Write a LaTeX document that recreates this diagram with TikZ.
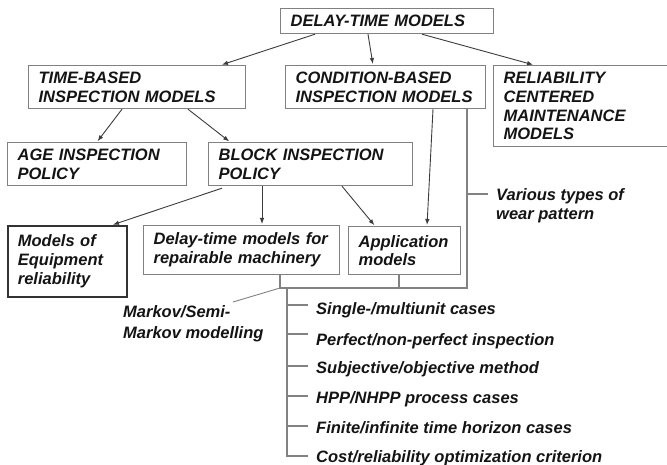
\documentclass[tikz,border=0pt]{standalone}
\usepackage{fontspec}
\setmainfont{Liberation Sans}
\usetikzlibrary{calc,arrows.meta}
\definecolor{boxgray}{RGB}{128,128,128}
\definecolor{linegray}{RGB}{60,60,60}
\definecolor{brkgray}{RGB}{130,130,130}
\definecolor{txt}{RGB}{20,20,20}
\tikzset{
  box/.style={draw=boxgray, line width=1.2pt, inner xsep=10pt, inner ysep=0pt,
    align=left, anchor=north west, text=txt,
    font=\bfseries\itshape\fontsize{16.5}{18.8}\selectfont},
  lbl/.style={inner sep=0pt, anchor=base west, align=left, text=txt,
    font=\bfseries\itshape\fontsize{16.5}{19.5}\selectfont},
  arr/.style={draw=linegray, line width=0.9pt, -{Latex[length=6pt,width=4.5pt]}, shorten >=1pt},
  brk/.style={draw=brkgray, line width=1.2pt}
}
\begin{document}
\begin{tikzpicture}[x=1pt,y=-1pt]
\fill[white] (0,0) rectangle (667,465);
\useasboundingbox (0,0) rectangle (667,465);

% boxes
\node[box, minimum width=213, text width=193, minimum height=25] (dtm) at (280,8) {DELAY-TIME MODELS};
\node[box, minimum width=217, text width=197, minimum height=43] (tb) at (28,65) {TIME-BASED\\INSPECTION MODELS};
\node[box, minimum width=200, text width=180, minimum height=43] (cb) at (285,65) {CONDITION-BASED\\INSPECTION MODELS};
\node[box, minimum width=180, text width=160, minimum height=81] (rcm) at (493,65) {RELIABILITY\\CENTERED\\MAINTENANCE\\MODELS};
\node[box, minimum width=179, text width=159, minimum height=43] (age) at (7,142) {AGE INSPECTION\\POLICY};
\node[box, minimum width=204, text width=184, minimum height=43] (blk) at (208,142) {BLOCK INSPECTION\\POLICY};
\node[box, draw=black!80, line width=1.8pt, minimum width=119, text width=99, minimum height=71] (eq) at (7,225) {Models of\\Equipment\\reliability};
\node[box, minimum width=196, text width=176, minimum height=49] (dtr) at (143,225) {Delay-time models for\\repairable machinery};
\node[box, minimum width=112, text width=92, minimum height=48] (app) at (348,226) {Application\\models};

% arrows
\draw[arr] ($(dtm.south west)+(35,0)$) -- ($(tb.north west)+(193,0)$);
\draw[arr] ($(dtm.south west)+(88,0)$) -- ($(cb.north west)+(88,0)$);
\draw[arr] ($(dtm.south west)+(142,0)$) -- ($(rcm.north west)+(41,0)$);
\draw[arr] ($(tb.south west)+(94,0)$) -- ($(age.north west)+(90,0)$);
\draw[arr] ($(tb.south west)+(160,0)$) -- ($(blk.north west)+(22,0)$);
\draw[arr] ($(blk.south west)+(14,2)$) -- ($(eq.north west)+(105,0)$);
\draw[arr] ($(blk.south west)+(54,0)$) -- ($(dtr.north west)+(119,0)$);
\draw[arr] ($(blk.south west)+(134,0)$) -- ($(app.north west)+(27,0)$);
\draw[arr] ($(cb.south west)+(148,0)$) -- ($(app.north west)+(79,0)$);

% bracket
\coordinate (jL) at (280,288);
\coordinate (jR) at (467,288);
\draw[brk] ($(cb.south west)+(182,0)$) -- (jR) -- (jL) -- (jL |- dtr.south);
\draw[brk] ($(app.south west)+(51,0)$) coordinate (a1) -- (a1 |- jL);

% various types
\node[lbl] (vt) at (496,220) {Various types of\\wear pattern};
\coordinate (vtk) at (488,194);
\draw[brk] (jR |- vtk) -- (vtk);

% Markov
\node[lbl, font=\bfseries\itshape\fontsize{16.5}{20.5}\selectfont] (mk) at (123,338) {Markov/Semi-\\Markov modelling};
\coordinate (mke) at (233,302);
\draw[brk, line width=0.9pt] (jL) -- (mke);

% list
\coordinate (lt) at (287,288);
\coordinate (lb) at (287,456);
\draw[brk] (lt) -- (lb) -- ++(21,0);
\foreach \ty in {305,334,366,396,426}{
  \draw[brk] (287,\ty) -- (308,\ty);
}
\node[lbl] (l1) at (316,315) {Single-/multiunit cases};
\node[lbl] (l2) at (316,345) {Perfect/non-perfect inspection};
\node[lbl] (l3) at (316,373) {Subjective/objective method};
\node[lbl] (l4) at (316,403) {HPP/NHPP process cases};
\node[lbl] (l5) at (316,433) {Finite/infinite time horizon cases};
\node[lbl] (l6) at (316,462) {Cost/reliability optimization criterion};
\end{tikzpicture}
\end{document}
